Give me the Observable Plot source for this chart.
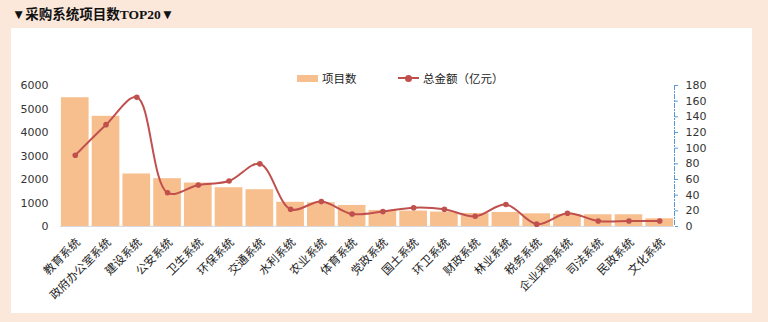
<!DOCTYPE html>
<html><head><meta charset="utf-8">
<script src="https://cdn.jsdelivr.net/npm/d3@7"></script>
<script src="https://cdn.jsdelivr.net/npm/@observablehq/plot@0.6"></script>
<style>
body{margin:0;background:#FCE8DA;width:768px;height:322px;overflow:hidden;position:relative;font-family:"DejaVu Sans",sans-serif}
#title{position:absolute;left:12px;top:3px;font:bold 13.5px "Liberation Serif","Noto Sans CJK SC",serif;color:#111;white-space:nowrap}
#panel{position:absolute;left:11px;top:28px;width:741px;height:285px;background:#fff}
#panel svg{position:absolute;left:0;top:0}
.leg{position:absolute;top:42px;font:11.5px "Noto Sans CJK SC",sans-serif;color:#222;display:flex;align-items:center;white-space:nowrap}
.sw{display:inline-block;width:21px;height:7px;background:#F8BF8E;margin-right:4px}
.ln{position:relative;display:inline-block;width:21px;height:2px;background:#C0504D;margin-right:4px}
.ln::after{content:"";position:absolute;left:7px;top:-2.5px;width:7px;height:7px;border-radius:50%;background:#C0504D}
</style></head>
<body>
<div id="title">▼采购系统项目数TOP20▼</div>
<div id="panel">
  <div class="leg" style="left:286px"><span class="sw"></span>项目数</div>
  <div class="leg" style="left:387px"><span class="ln"></span>总金额（亿元）</div>
</div>
<script>
const categories = ["教育系统","政府办公室系统","建设系统","公安系统","卫生系统","环保系统","交通系统","水利系统","农业系统","体育系统","党政系统","国土系统","环卫系统","财政系统","林业系统","税务系统","企业采购系统","司法系统","民政系统","文化系统"];
const projectCounts = [5480,4690,2235,2034,1850,1650,1565,1030,1010,895,682,657,614,555,597,540,512,500,500,330];
const totalAmounts = [91,130,165,43,53,58,80,22,32,16,19,24,22,13,28,3,17,7,7,7];
const leftTicks = [0,1000,2000,3000,4000,5000,6000];
const rightTicks = [0,20,40,60,80,100,120,140,160,180];

const K = 6000/180;
const data = categories.map((c,i)=>({cat:c, count:projectCounts[i], amount:totalAmounts[i]}));

const chart = Plot.plot({
  width: 741, height: 285,
  marginLeft: 49, marginRight: 78, marginTop: 57, marginBottom: 87,
  style: {background: "transparent", fontFamily: "DejaVu Sans, sans-serif"},
  x: {domain: categories, axis: null, paddingInner: 0.1, paddingOuter: 0.03, round: false},
  y: {domain: [0, 6000], axis: null},
  marks: [
    Plot.barY(data, {x: "cat", y: "count", fill: "#F8BF8E"}),
    Plot.ruleY([0], {stroke: "#d9d9d9"}),
    Plot.line(data, {x: "cat", y: d => d.amount*K, stroke: "#C0504D", strokeWidth: 2, curve: "catmull-rom"}),
    Plot.dot(data, {x: "cat", y: d => d.amount*K, r: 2.8, fill: "#C0504D", stroke: "none"}),
    Plot.axisY(leftTicks, {anchor: "left", tickSize: 0, tickPadding: 12, fontSize: 11, color: "#333", tickFormat: d => String(d), label: null}),
    Plot.axisY(rightTicks.map(v => v*K), {anchor: "right", tickSize: 3, tickPadding: 8, stroke: "#5B9BD5", fill: "#333", fontSize: 11, tickFormat: v => String(Math.round(v/K)), label: null}),
    Plot.frame({anchor: "right", stroke: "#5B9BD5", strokeDasharray: "4 2 1 2"}),
    Plot.text(categories, {x: d => d, y: () => 0, text: d => d, rotate: -45, textAnchor: "end", lineAnchor: "middle", dy: 14, dx: 3, fontSize: 11.5, fill: "#222", fontFamily: "Noto Sans CJK SC"})
  ]
});
document.getElementById("panel").appendChild(chart);
</script>
</body></html>
